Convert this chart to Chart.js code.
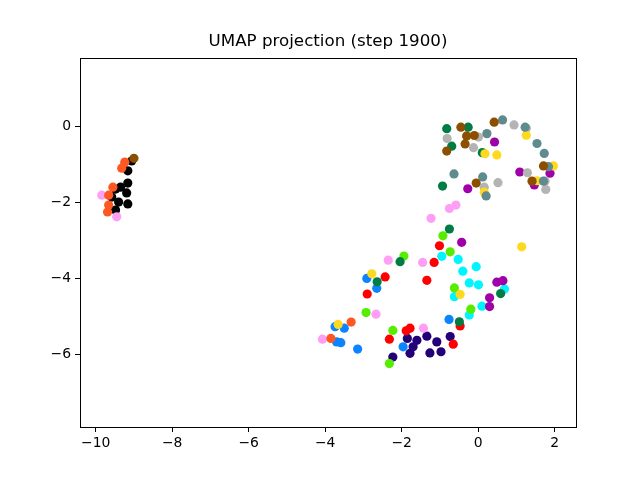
<!DOCTYPE html>
<html>
<head>
<meta charset="utf-8">
<script src="https://cdn.jsdelivr.net/npm/chart.js@4.4.0/dist/chart.umd.min.js"></script>
<style>
  html, body { margin: 0; padding: 0; background: #fff; }
  #wrap { width: 640px; height: 480px; }
</style>
</head>
<body>
<div id="wrap"><canvas id="umap-chart" width="640" height="480"></canvas></div>
<script>
const chartTitle = 'UMAP projection (step 1900)';
const xTicks = [-10, -8, -6, -4, -2, 0, 2];
const yTicks = [-6, -4, -2, 0];

// embedding points per class, [x, y]
const orangeRed = [[-9.24, -0.95], [-9.32, -1.11], [-9.55, -1.61], [-9.66, -1.82], [-9.66, -2.08], [-9.69, -2.26], [-3.32, -5.16], [-3.85, -5.59]];
const pink = [[-9.84, -1.82], [-9.45, -2.39], [-0.75, -2.17], [-0.58, -2.08], [-1.23, -2.43], [-1.45, -3.59], [-2.35, -3.53], [-2.67, -4.95], [-4.07, -5.61], [-1.43, -5.32]];
const darkGreen = [[-0.82, -0.07], [-0.26, -0.03], [-0.69, -0.53], [0.11, -0.70], [-0.93, -1.58], [-0.75, -2.71], [-2.04, -3.57], [-2.64, -4.10], [0.59, -4.41], [-0.49, -5.15]];
const brown = [[-9.0, -0.85], [-0.45, -0.03], [-0.30, -0.26], [-0.10, -0.25], [-0.82, -0.66], [-0.34, -0.47], [0.42, 0.10], [-0.05, -1.50], [1.71, -1.05], [1.41, -1.45]];
const teal = [[0.23, -0.20], [0.64, 0.16], [1.23, -0.03], [1.54, -0.46], [1.73, -0.72], [1.84, -1.07], [1.71, -1.45], [-0.63, -1.26], [0.12, -1.34], [0.21, -1.84]];
const gold = [[0.18, -0.73], [0.49, -0.76], [1.26, -0.24], [1.97, -1.05], [1.54, -1.44], [0.16, -1.74], [1.14, -3.18], [-0.47, -4.43], [-2.78, -3.89], [-3.66, -5.22]];
const gray = [[-0.81, -0.33], [0.01, -0.29], [-0.12, -0.57], [0.94, 0.03], [1.26, -0.06], [0.52, -1.49], [0.16, -1.61], [1.29, -1.23], [1.75, -1.45], [1.77, -1.67]];
const magenta = [[0.43, -0.42], [-0.27, -1.65], [1.09, -1.21], [1.88, -1.24], [1.47, -1.55], [-0.43, -3.06], [0.49, -4.11], [0.65, -4.07], [0.30, -4.52], [0.30, -4.75]];
const red = [[-1.01, -3.15], [-1.15, -3.59], [-1.34, -4.06], [-2.43, -3.97], [-2.90, -4.42], [-2.32, -5.61], [-1.88, -5.39], [-1.78, -5.32], [-0.47, -5.26], [-0.65, -5.74]];
const lime = [[-0.92, -2.89], [-0.73, -3.31], [-1.94, -3.42], [-0.62, -4.26], [-0.19, -4.82], [-2.93, -4.91], [-2.23, -5.38], [-2.32, -6.25]];
const cyan = [[-0.95, -3.43], [-0.52, -3.51], [-0.40, -3.82], [-0.05, -3.70], [-0.23, -4.13], [0.01, -4.18], [-0.62, -4.49], [0.69, -4.29], [0.10, -4.74], [-0.23, -4.97]];
const blue = [[-2.91, -4.01], [-2.65, -4.27], [-3.74, -5.28], [-3.50, -5.32], [-3.70, -5.68], [-3.59, -5.70], [-3.15, -5.87], [-1.96, -5.81], [-0.76, -5.09]];
const indigo = [[-1.85, -5.59], [-1.60, -5.64], [-1.34, -5.53], [-1.08, -5.68], [-0.73, -5.54], [-1.70, -5.81], [-1.78, -5.98], [-1.26, -5.97], [-0.97, -5.94], [-2.23, -6.08]];
const black = [[-9.06, -0.92], [-9.16, -1.18], [-9.16, -1.50], [-9.35, -1.61], [-9.48, -1.66], [-9.58, -1.87], [-9.19, -1.76], [-9.40, -2.00], [-9.16, -2.05], [-9.48, -2.21]];

const groups = [
    { pts: brown, color: '#8c4f00' },
    { pts: orangeRed, color: '#ff5722' },
    { pts: pink, color: '#ff9ef5' },
    { pts: teal, color: '#5f8b8f' },
    { pts: gold, color: '#ffd820' },
    { pts: gray, color: '#b4b4b4' },
    { pts: darkGreen, color: '#007d44' },
    { pts: magenta, color: '#a000a8' },
    { pts: lime, color: '#55ee00' },
    { pts: cyan, color: '#00f5ff' },
    { pts: red, color: '#ff0000' },
    { pts: blue, color: '#0a84ff' },
    { pts: indigo, color: '#230078' },
    { pts: black, color: '#000000' },
];

const fmt = v => (v < 0 ? '\u2212' + Math.abs(v) : String(v));
const tickFont = { family: 'DejaVu Sans', size: 13.9 };

// box round the axes plus the title above it
const frameAndTitle = {
    id: 'frameAndTitle',
    afterDraw(chart) {
        const { ctx, chartArea: a } = chart;
        ctx.save();
        ctx.strokeStyle = '#000';
        ctx.lineWidth = 1;
        ctx.strokeRect(Math.round(a.left) + 0.5, Math.round(a.top) + 0.5,
            Math.round(a.right - a.left), Math.round(a.bottom - a.top));
        ctx.fillStyle = '#000';
        ctx.font = '16.7px "DejaVu Sans"';
        ctx.textAlign = 'center';
        ctx.textBaseline = 'alphabetic';
        ctx.fillText(chartTitle, (a.left + a.right) / 2, a.top - 12);
        ctx.restore();
    }
};

const ctx = document.getElementById('umap-chart').getContext('2d');
new Chart(ctx, {
    type: 'scatter',
    data: {
        datasets: groups.map(g => ({
            data: g.pts.map(p => ({ x: p[0], y: p[1] })),
            backgroundColor: g.color,
            borderWidth: 0,
            pointRadius: 4.6,
            pointHoverRadius: 4.6,
        }))
    },
    options: {
        responsive: false,
        animation: false,
        layout: { padding: { top: 58, right: 64, left: 0, bottom: 0 } },
        plugins: {
            legend: { display: false },
            tooltip: { enabled: false },
            title: { display: false }
        },
        scales: {
            x: {
                type: 'linear',
                min: -10.41,
                max: 2.56,
                afterBuildTicks: s => { s.ticks = xTicks.map(v => ({ value: v })); },
                afterFit: s => { s.height = 53; },
                ticks: { color: '#000', font: tickFont, padding: 3, maxRotation: 0, callback: fmt },
                grid: { drawOnChartArea: false, drawTicks: true, tickLength: 5, color: '#000' },
                border: { display: true, color: '#000' }
            },
            y: {
                type: 'linear',
                min: -7.92,
                max: 1.79,
                afterBuildTicks: s => { s.ticks = yTicks.map(v => ({ value: v })); },
                afterFit: s => { s.width = 80; },
                ticks: { color: '#000', font: tickFont, padding: 4, callback: fmt },
                grid: { drawOnChartArea: false, drawTicks: true, tickLength: 5, color: '#000' },
                border: { display: true, color: '#000' }
            }
        }
    },
    plugins: [frameAndTitle]
});
</script>
</body>
</html>
